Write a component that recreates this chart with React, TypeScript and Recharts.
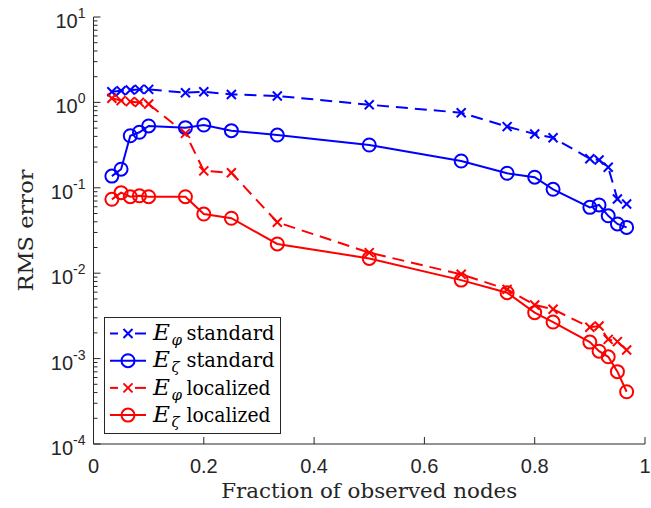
import React from 'react';
import { LineChart, Line, XAxis, YAxis, Legend } from 'recharts';

const xFractions = [0.0333, 0.05, 0.0667, 0.0833, 0.1, 0.1667, 0.2, 0.25, 0.3333, 0.5, 0.6667, 0.75, 0.8, 0.8333, 0.9, 0.9167, 0.9333, 0.95, 0.9667];
const ePhiStandard = [1.33, 1.37, 1.4, 1.42, 1.42, 1.3, 1.33, 1.24, 1.19, 0.94, 0.757, 0.52, 0.427, 0.386, 0.219, 0.212, 0.174, 0.074, 0.0646];
const eZetaStandard = [0.137, 0.165, 0.407, 0.447, 0.53, 0.506, 0.543, 0.467, 0.415, 0.317, 0.206, 0.148, 0.133, 0.096, 0.059, 0.063, 0.047, 0.0377, 0.0344];
const ePhiLocalized = [1.12, 1.05, 1.02, 1.0, 0.957, 0.434, 0.158, 0.15, 0.0395, 0.0174, 0.0097, 0.00647, 0.00425, 0.00378, 0.00233, 0.00241, 0.00168, 0.00158, 0.00126];
const eZetaLocalized = [0.0733, 0.0877, 0.0787, 0.0807, 0.0787, 0.0787, 0.0493, 0.044, 0.022, 0.0149, 0.0083, 0.00591, 0.00345, 0.00268, 0.00156, 0.00122, 0.00105, 0.000703, 0.000409];

const xTicks = [0, 0.2, 0.4, 0.6, 0.8, 1];
const yTicks = [
  0.0001, 0.0002, 0.0003, 0.0004, 0.0005, 0.0006, 0.0007, 0.0008, 0.0009,
  0.001, 0.002, 0.003, 0.004, 0.005, 0.006, 0.007, 0.008, 0.009,
  0.01, 0.02, 0.03, 0.04, 0.05, 0.06, 0.07, 0.08, 0.09,
  0.1, 0.2, 0.3, 0.4, 0.5, 0.6, 0.7, 0.8, 0.9,
  1, 2, 3, 4, 5, 6, 7, 8, 9, 10,
];

const seriesNames = ['E_phi standard', 'E_zeta standard', 'E_phi localized', 'E_zeta localized'];
const xLabel = 'Fraction of observed nodes';
const yLabel = 'RMS error';

const data = xFractions.map((x, i) => ({
  x,
  phiStd: ePhiStandard[i],
  zetaStd: eZetaStandard[i],
  phiLoc: ePhiLocalized[i],
  zetaLoc: eZetaLocalized[i],
}));

const AX = '#262626';
const BLUE = '#0000ff';
const RED = '#ff0000';
const SANS = "'Liberation Sans', Arial, Helvetica, sans-serif";
const SERIF = "'DejaVu Serif', serif";

function YTick(props: any) {
  const { x, y, payload, side } = props;
  const v = payload.value;
  const lg = Math.log10(v);
  const major = Math.abs(lg - Math.round(lg)) < 1e-6;
  const len = major ? 7 : 4;
  const dir = side === 'right' ? -1 : 1;
  return (
    <g>
      <line x1={x} y1={y} x2={x + dir * len} y2={y} stroke={AX} strokeWidth={1} />
      {major && side !== 'right' && (
        <text x={x - 8} y={y + 11} textAnchor="end" fill={AX} style={{ fontFamily: SANS, fontSize: 20 }}>
          10
          <tspan dy={-10} style={{ fontSize: 14 }}>{String(Math.round(lg))}</tspan>
        </text>
      )}
    </g>
  );
}

function XTick(props: any) {
  const { x, y, payload, side } = props;
  const v = payload.value;
  const dir = side === 'top' ? 1 : -1;
  return (
    <g>
      <line x1={x} y1={y} x2={x} y2={y + dir * 7} stroke={AX} strokeWidth={1} />
      {side !== 'top' && (
        <text x={x} y={y + 29} textAnchor="middle" fill={AX} style={{ fontFamily: SANS, fontSize: 20 }}>
          {String(v)}
        </text>
      )}
    </g>
  );
}

function CrossDot(props: any) {
  const { cx, cy, stroke } = props;
  if (cx == null || cy == null) return <g />;
  const s = 4.5;
  return (
    <g>
      <line x1={cx - s} y1={cy - s} x2={cx + s} y2={cy + s} stroke={stroke} strokeWidth={2} />
      <line x1={cx - s} y1={cy + s} x2={cx + s} y2={cy - s} stroke={stroke} strokeWidth={2} />
    </g>
  );
}

function CircleDot(props: any) {
  const { cx, cy, stroke } = props;
  if (cx == null || cy == null) return <g />;
  return <circle cx={cx} cy={cy} r={6.5} fill="none" stroke={stroke} strokeWidth={2} />;
}

function LegendLabel({ sub, rest, y, len }: { sub: string; rest: string; y: number; len: number }) {
  return (
    <g>
      <text x={49} y={y} fill="#000" textLength={17} lengthAdjust="spacingAndGlyphs" style={{ fontFamily: SERIF, fontSize: 22, fontStyle: 'italic' }}>E</text>
      <text x={67.5} y={y + 5} fill="#000" style={{ fontFamily: SERIF, fontSize: 15, fontStyle: 'italic' }}>{sub}</text>
      <text x={82.5} y={y} fill="#000" textLength={len} lengthAdjust="spacingAndGlyphs" style={{ fontFamily: SERIF, fontSize: 20 }}>
        {rest}
      </text>
    </g>
  );
}

function LegendBox() {
  const rows = [
    { color: BLUE, dashed: true, cross: true, sub: 'φ', rest: 'standard', len: 88, name: seriesNames[0] },
    { color: BLUE, dashed: false, cross: false, sub: 'ζ', rest: 'standard', len: 88, name: seriesNames[1] },
    { color: RED, dashed: true, cross: true, sub: 'φ', rest: 'localized', len: 84, name: seriesNames[2] },
    { color: RED, dashed: false, cross: false, sub: 'ζ', rest: 'localized', len: 84, name: seriesNames[3] },
  ];
  return (
    <svg width={177} height={117} style={{ display: 'block' }}>
      <rect x={0.5} y={0.5} width={176} height={116} fill="#fff" stroke={AX} strokeWidth={1} />
      {rows.map((r, i) => {
        const cy = 16.5 + i * 27.2;
        return (
          <g key={r.name}>
            {r.dashed ? (
              <g>
                <line x1={6} y1={cy} x2={14} y2={cy} stroke={r.color} strokeWidth={2} />
                <line x1={31} y1={cy} x2={42} y2={cy} stroke={r.color} strokeWidth={2} />
              </g>
            ) : (
              <line x1={6} y1={cy} x2={42} y2={cy} stroke={r.color} strokeWidth={2} />
            )}
            {r.cross ? <CrossDot cx={24} cy={cy} stroke={r.color} /> : <CircleDot cx={24} cy={cy} stroke={r.color} />}
            <LegendLabel sub={r.sub} rest={r.rest} y={cy + 6.7} len={r.len} />
          </g>
        );
      })}
    </svg>
  );
}

export default function App() {
  return (
    <div style={{ position: 'absolute', left: 0, top: 0, background: '#fff' }}>
      <LineChart width={651} height={508} data={data} margin={{ top: 17, right: 6, bottom: 0, left: 0 }}>
        <XAxis
          dataKey="x"
          type="number"
          domain={[0, 1]}
          ticks={xTicks}
          interval={0}
          height={64}
          tickSize={0}
          tickMargin={0}
          axisLine={{ stroke: AX, strokeWidth: 1 }}
          tickLine={false}
          tick={(p: any) => <XTick {...p} side="bottom" />}
          label={(lp: any) => {
            const vb = lp.viewBox || {};
            const cx = vb.x + vb.width / 2;
            return (
              <text x={cx - 148} y={498} fill={AX} textLength={296} lengthAdjust="spacingAndGlyphs" style={{ fontFamily: SERIF, fontSize: 21 }}>
                {xLabel}
              </text>
            );
          }}
        />
        <XAxis
          xAxisId="top"
          orientation="top"
          dataKey="x"
          type="number"
          domain={[0, 1]}
          ticks={xTicks}
          interval={0}
          height={0}
          tickSize={0}
          tickMargin={0}
          axisLine={{ stroke: AX, strokeWidth: 1 }}
          tickLine={false}
          tick={(p: any) => <XTick {...p} side="top" />}
        />
        <YAxis
          type="number"
          scale="log"
          domain={[0.0001, 10]}
          allowDataOverflow
          ticks={yTicks}
          interval={0}
          width={93.5}
          tickSize={0}
          tickMargin={0}
          axisLine={{ stroke: AX, strokeWidth: 1 }}
          tickLine={false}
          tick={(p: any) => <YTick {...p} side="left" />}
          label={(lp: any) => {
            const vb = lp.viewBox || {};
            const cy = vb.y + vb.height / 2;
            return (
              <text x={33} y={cy} transform={`rotate(-90 33 ${cy})`} dx={-61} fill={AX} textLength={122} lengthAdjust="spacingAndGlyphs" style={{ fontFamily: SERIF, fontSize: 21 }}>
                {yLabel}
              </text>
            );
          }}
        />
        <YAxis
          yAxisId="right"
          orientation="right"
          type="number"
          scale="log"
          domain={[0.0001, 10]}
          allowDataOverflow
          ticks={yTicks}
          interval={0}
          width={0}
          tickSize={0}
          tickMargin={0}
          axisLine={{ stroke: AX, strokeWidth: 1 }}
          tickLine={false}
          tick={(p: any) => <YTick {...p} side="right" />}
        />
        <Line
          dataKey="phiStd"
          name={seriesNames[0]}
          type="linear"
          stroke={BLUE}
          strokeWidth={2}
          strokeDasharray="12 7"
          dot={(p: any) => <CrossDot key={`a${p.index}`} {...p} stroke={BLUE} />}
          isAnimationActive={false}
        />
        <Line
          dataKey="zetaStd"
          name={seriesNames[1]}
          type="linear"
          stroke={BLUE}
          strokeWidth={2}
          dot={(p: any) => <CircleDot key={`b${p.index}`} {...p} stroke={BLUE} />}
          isAnimationActive={false}
        />
        <Line
          dataKey="phiLoc"
          name={seriesNames[2]}
          type="linear"
          stroke={RED}
          strokeWidth={2}
          strokeDasharray="12 7"
          dot={(p: any) => <CrossDot key={`c${p.index}`} {...p} stroke={RED} />}
          isAnimationActive={false}
        />
        <Line
          dataKey="zetaLoc"
          name={seriesNames[3]}
          type="linear"
          stroke={RED}
          strokeWidth={2}
          dot={(p: any) => <CircleDot key={`d${p.index}`} {...p} stroke={RED} />}
          isAnimationActive={false}
        />
        <Legend
          layout="horizontal"
          verticalAlign="middle"
          align="center"
          content={() => <LegendBox />}
          wrapperStyle={{ position: 'absolute', left: 104, top: 317, width: 177, height: 117 }}
        />
      </LineChart>
    </div>
  );
}
